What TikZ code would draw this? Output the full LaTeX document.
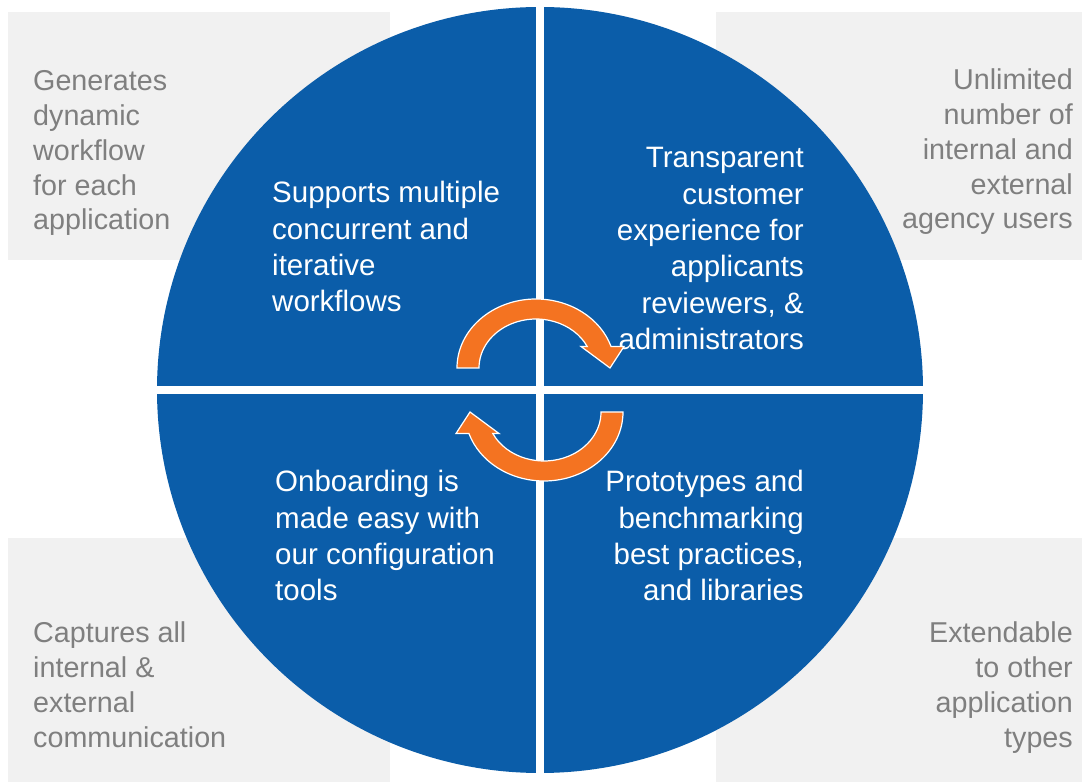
\documentclass[tikz,border=0pt]{standalone}
\usepackage{fontspec}
\setmainfont{Liberation Sans}
\definecolor{qblue}{HTML}{0B5DA9}
\definecolor{qorange}{HTML}{F47321}
\definecolor{boxgray}{HTML}{F1F1F1}
\definecolor{txtgray}{HTML}{7F7F7F}
\begin{document}
\begin{tikzpicture}[x=1pt,y=1pt,
  sidebox/.style={fill=boxgray, draw=none},
  sidetext/.style={text=txtgray, inner sep=0pt, font=\fontsize{28.7}{34.7}\selectfont},
  quadtext/.style={text=white, inner sep=0pt, font=\fontsize{29.5}{36.3}\selectfont},
  cyclearrow/.style={fill=qorange, draw=white, line width=1.2pt, line join=miter}]
\useasboundingbox (0,0) rectangle (1082,782);
% side boxes
\fill[sidebox] (8,522) rectangle (390,770);
\fill[sidebox] (716,522) rectangle (1082,770);
\fill[sidebox] (8,0) rectangle (390,244);
\fill[sidebox] (716,0) rectangle (1082,244);
% circle with quadrant gaps
\fill[qblue] (540,392) circle[radius=383pt];
\fill[white] (536,0) rectangle (544,782);
\fill[white] (150,388) rectangle (930,396);
% side texts (base anchor = last line)
\node[sidetext, anchor=base west, align=left] (gen) at (33,552.2) {Generates\\dynamic\\workflow\\for each\\application};
\node[sidetext, anchor=base east, align=right] (unl) at (1073,553.2) {Unlimited\\number of\\internal and\\external\\agency users};
\node[sidetext, anchor=base west, align=left] (cap) at (33,34.9) {Captures all\\internal \&\\external\\communication};
\node[sidetext, anchor=base east, align=right] (ext) at (1073,34.9) {Extendable\\to other\\application\\types};
% quadrant texts
\node[quadtext, anchor=base west, align=left] (sup) at (272,470.1) {Supports multiple\\concurrent and\\iterative\\workflows};
\node[quadtext, anchor=base east, align=right] (tra) at (804,432.5) {Transparent\\customer\\experience for\\applicants\\reviewers, \&\\administrators};
\node[quadtext, anchor=base west, align=left] (onb) at (275,181.1) {Onboarding is\\made easy with\\our configuration\\tools};
\node[quadtext, anchor=base east, align=right] (pro) at (804,181.1) {Prototypes and\\benchmarking\\best practices,\\and libraries};
% cycle arrows
\begin{scope}[shift={(536,414)}]
\path[cyclearrow] (-79,0) arc[start angle=180, end angle=18.2, x radius=79pt, y radius=69pt]
  -- (88,21.5) -- (74,0) -- (45,21.5) -- (51.23,21.48)
  arc[start angle=26, end angle=180, x radius=57pt, y radius=49pt] -- cycle;
\end{scope}
\begin{scope}[shift={(544,370)}, rotate=180]
\path[cyclearrow] (-79,0) arc[start angle=180, end angle=18.2, x radius=79pt, y radius=69pt]
  -- (88,21.5) -- (74,0) -- (45,21.5) -- (51.23,21.48)
  arc[start angle=26, end angle=180, x radius=57pt, y radius=49pt] -- cycle;
\end{scope}
\end{tikzpicture}
\end{document}
